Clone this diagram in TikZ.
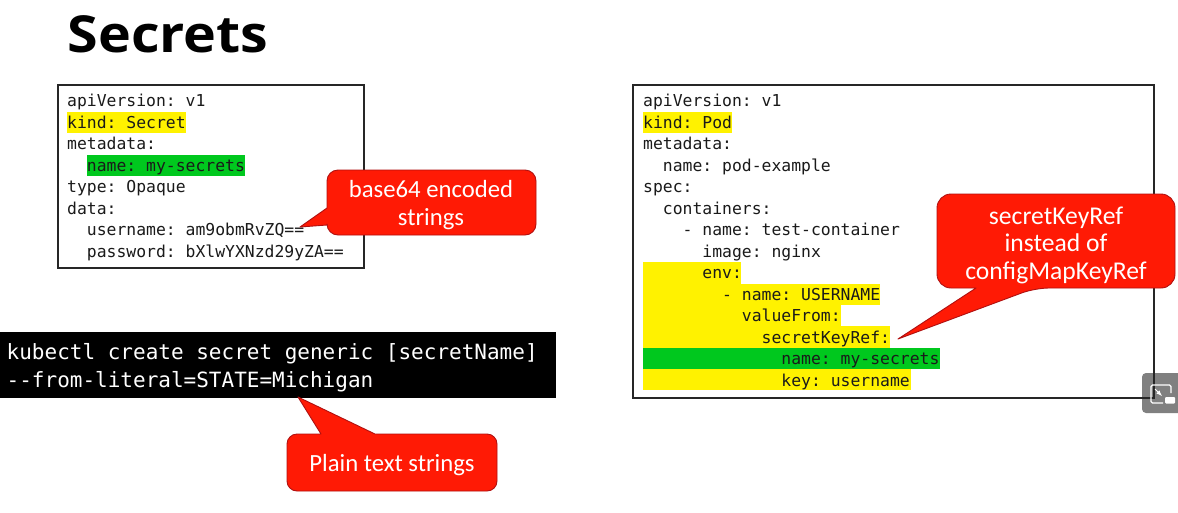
\documentclass[tikz,border=0pt]{standalone}
\usepackage{fontspec}
\setmainfont{Carlito}
\newfontfamily\codefont{DejaVu Sans Mono}
\newfontfamily\titlefont[FakeStretch=1.09]{Open Sans}
\definecolor{hlyellow}{HTML}{FFF200}
\definecolor{hlgreen}{HTML}{00C81E}
\definecolor{calloutred}{HTML}{FF1A05}
\definecolor{calloutedge}{HTML}{B01010}
\definecolor{codeink}{HTML}{1A1A1A}
\definecolor{icongrey}{HTML}{808080}
\frenchspacing
\tikzset{
  x=1pt,y=-1pt,
  codeline/.style={anchor=base west,inner sep=0pt,text=codeink,font=\codefont\fontsize{16.4}{18}\selectfont},
  termline/.style={anchor=base west,inner sep=0pt,text=white,font=\codefont\fontsize{21}{24}\selectfont},
  calloutshape/.style={fill=calloutred,draw=calloutedge,line width=0.9pt,line join=round},
  callouttext/.style={text=white,inner sep=0pt,align=center,font=\fontsize{24.7}{27.5}\selectfont},
  codebox/.style={draw=black!85,line width=1.3pt},
}
\begin{document}
\begin{tikzpicture}
\useasboundingbox (0,0) rectangle (1178,512);
\fill[white] (0,0) rectangle (1178,512);
% title
\node[anchor=base west,inner sep=0pt,font=\titlefont\bfseries\fontsize{51}{56}\selectfont,text=black] (title) at (67.5,52) {Secrets};
% left box
\fill[hlyellow] (67,112) rectangle (186,133);
\fill[hlgreen] (87,155) rectangle (245,176);
\draw[codebox] (58,85) rectangle (364,268);
\node[codeline] (la) at (67,106.5) {apiVersion: v1};
\node[codeline] (lb) at (67,128) {kind: Secret};
\node[codeline] (lc) at (67,149.5) {metadata:};
\node[codeline] (ld) at (67,171) {\ \ name: my-secrets};
\node[codeline] (le) at (67,192.5) {type: Opaque};
\node[codeline] (lf) at (67,214) {data:};
\node[codeline] (lg) at (67,235.5) {\ \ username: am9obmRvZQ==};
\node[codeline] (lh) at (67,257) {\ \ password: bXlwYXNzd29yZA==};
% right box
\fill[hlyellow] (643,112) rectangle (732,133);
\fill[hlyellow] (643,262) rectangle (741,284);
\fill[hlyellow] (643,284) rectangle (880,305);
\fill[hlyellow] (643,305) rectangle (841,326);
\fill[hlyellow] (643,326) rectangle (890,348);
\fill[hlgreen] (643,348) rectangle (940,369);
\fill[hlyellow] (643,369) rectangle (911,390);
\fill[icongrey,rounded corners=4pt] (1142,373) rectangle (1190,413);
\draw[codebox] (633,85) rectangle (1154,398);
\node[codeline] (ra) at (643,106.5) {apiVersion: v1};
\node[codeline] (rb) at (643,128) {kind: Pod};
\node[codeline] (rc) at (643,149.5) {metadata:};
\node[codeline] (rd) at (643,171) {\ \ name: pod-example};
\node[codeline] (re) at (643,192.5) {spec:};
\node[codeline] (rf) at (643,214) {\ \ containers:};
\node[codeline] (rg) at (643,235.5) {\ \ \ \ - name: test-container};
\node[codeline] (rh) at (643,257) {\ \ \ \ \ \ image: nginx};
\node[codeline] (ri) at (643,278.5) {\ \ \ \ \ \ env:};
\node[codeline] (rj) at (643,300) {\ \ \ \ \ \ \ \ - name: USERNAME};
\node[codeline] (rk) at (643,321.5) {\ \ \ \ \ \ \ \ \ \ valueFrom:};
\node[codeline] (rl) at (643,343) {\ \ \ \ \ \ \ \ \ \ \ \ secretKeyRef:};
\node[codeline] (rm) at (643,364.5) {\ \ \ \ \ \ \ \ \ \ \ \ \ \ name: my-secrets};
\node[codeline] (rn) at (643,386) {\ \ \ \ \ \ \ \ \ \ \ \ \ \ key: username};
% terminal
\fill[black] (0,332) rectangle (556,398);
\node[termline] (ta) at (6.5,359) {kubectl create secret generic [secretName]};
\node[termline] (tb) at (6.5,387) {--from-literal=STATE=Michigan};
% callouts
\draw[calloutshape,rounded corners=11pt] (327,170) -- (536,170) -- (536,235) -- (327,235) [sharp corners] -- (327,225) -- (300,227) -- (327,208) [rounded corners=11pt] -- cycle;
\node[callouttext] (ca) at (431,205) {base64 encoded\\strings};
\draw[calloutshape,rounded corners=10pt] (287,434) [sharp corners] -- (321,434) -- (298,397) -- (375,434) [rounded corners=10pt] -- (497,434) -- (497,491) -- (287,491) -- cycle;
\node[callouttext] (cb) at (392,465) {Plain text strings};
\draw[calloutshape,rounded corners=14pt] (937,194) -- (1175,194) -- (1175,288) -- (1035,288) [sharp corners] -- (898,339) -- (976,288) [rounded corners=14pt] -- (937,288) -- cycle;
\node[callouttext,font=\fontsize{25.6}{27.5}\selectfont] (cc) at (1056,245) {secretKeyRef\\instead of\\configMapKeyRef};
% corner icon
\draw[white,line width=1.3pt,rounded corners=1.5pt] (1171,393) -- (1171,385) -- (1151,385) -- (1151,403) -- (1163,403);
\fill[white,rounded corners=1pt] (1165,397) rectangle (1175,403.5);
\draw[white,line width=1pt,-latex] (1155,389) -- (1162,396);
\end{tikzpicture}
\end{document}
